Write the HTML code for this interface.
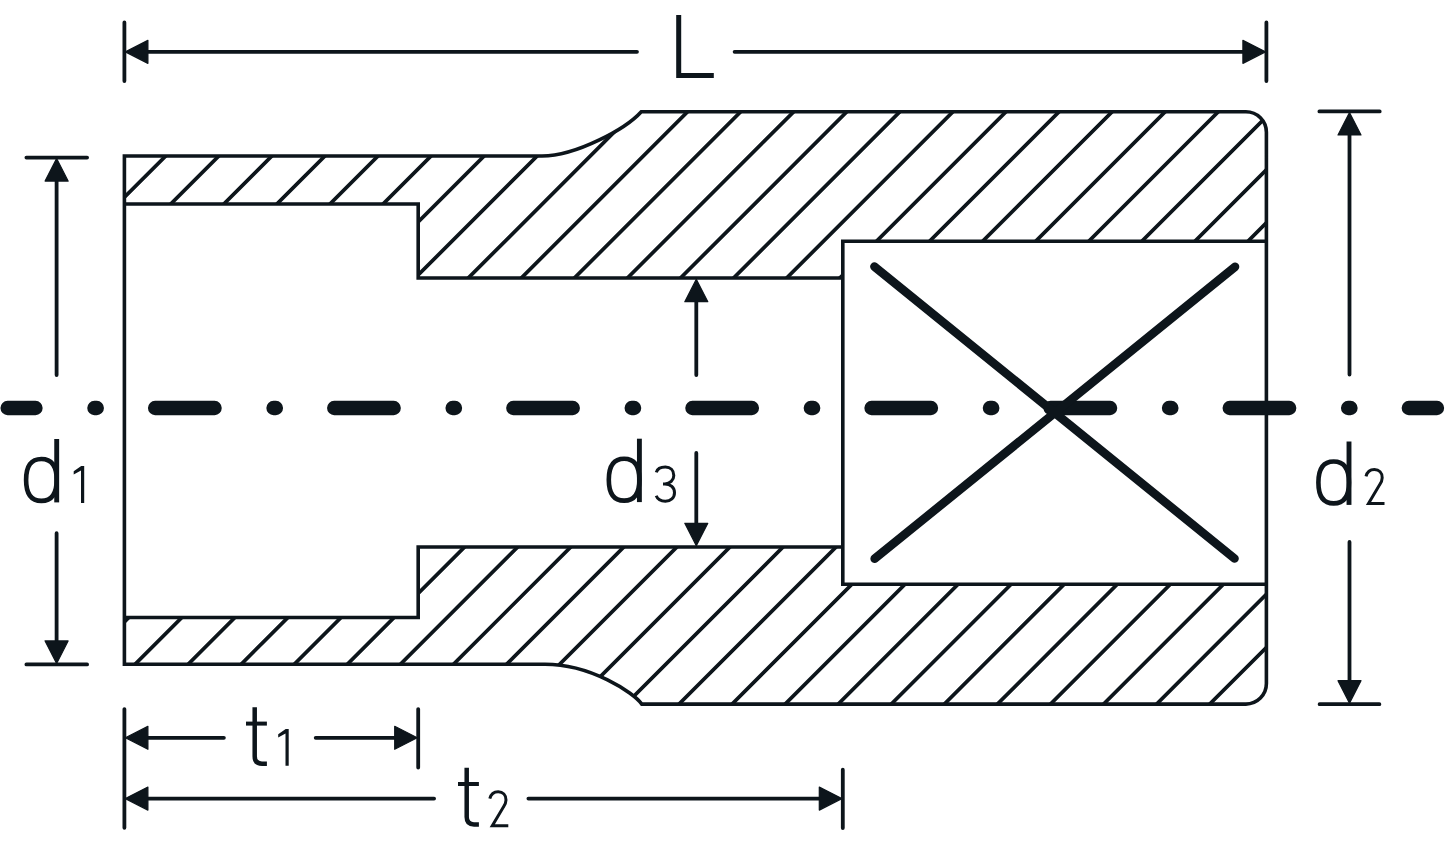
<!DOCTYPE html>
<html><head><meta charset="utf-8"><title>Socket drawing</title>
<style>
html,body{margin:0;padding:0;background:#fff;}
body{width:1445px;height:847px;overflow:hidden;font-family:"Liberation Sans",sans-serif;}
svg{display:block;}
</style></head><body>
<svg width="1445" height="847" viewBox="0 0 1445 847">
<defs>
<clipPath id="hc"><path d="M124.4,156 L530,156 L542,156 C576.5,156 625.92,128.64 641.3,111.7 L1245.9,111.7 A20.5 20.5 0 0 1 1266.4,132.2 L1266.4,241.3 L842.8,241.3 L842.8,278 L418.2,278 L418.2,204 L124.4,204 Z M124.4,617.5 L418.2,617.5 L418.2,547 L842.8,547 L842.8,584.2 L1266.4,584.2 L1266.4,683.6 A20.5 20.5 0 0 1 1245.9,704.1 L641.8,704.1 C633.51,692.6 590.91,664.2 545,664.2 L124.4,664.2 Z"/></clipPath>
</defs>
<rect width="1445" height="847" fill="#fff"/>
<g stroke="#0d151b" fill="none" stroke-linecap="round" stroke-linejoin="round">
<path d="M115.56,100 L-504.44,720 M168.63,100 L-451.37,720 M221.7,100 L-398.3,720 M274.77,100 L-345.23,720 M327.84,100 L-292.16,720 M380.91,100 L-239.09,720 M433.98,100 L-186.02,720 M487.05,100 L-132.95,720 M540.12,100 L-79.88,720 M593.19,100 L-26.81,720 M646.26,100 L26.26,720 M699.33,100 L79.33,720 M752.4,100 L132.4,720 M805.47,100 L185.47,720 M858.54,100 L238.54,720 M911.61,100 L291.61,720 M964.68,100 L344.68,720 M1017.75,100 L397.75,720 M1070.82,100 L450.82,720 M1123.89,100 L503.89,720 M1176.96,100 L556.96,720 M1230.03,100 L610.03,720 M1283.1,100 L663.1,720 M1336.17,100 L716.17,720 M1389.24,100 L769.24,720 M1442.31,100 L822.31,720 M1495.38,100 L875.38,720 M1548.45,100 L928.45,720 M1601.52,100 L981.52,720 M1654.59,100 L1034.59,720 M1707.66,100 L1087.66,720 M1760.73,100 L1140.73,720 M1813.8,100 L1193.8,720 M1866.87,100 L1246.87,720 M1919.94,100 L1299.94,720 M1973.01,100 L1353.01,720 M2026.08,100 L1406.08,720 M2079.15,100 L1459.15,720 M2132.22,100 L1512.22,720 M2185.29,100 L1565.29,720 M2238.36,100 L1618.36,720 M2291.43,100 L1671.43,720" stroke-width="3.7" clip-path="url(#hc)" stroke-linecap="butt"/>
<path d="M124.4,156 L530,156 L542,156 C576.5,156 625.92,128.64 641.3,111.7 L1245.9,111.7 A20.5 20.5 0 0 1 1266.4,132.2 L1266.4,683.6 A20.5 20.5 0 0 1 1245.9,704.1 L641.8,704.1 C633.51,692.6 590.91,664.2 545,664.2 L124.4,664.2 Z" stroke-width="3.6" stroke-linejoin="miter"/>
<path d="M124.4,204 L418.2,204 L418.2,278 L842.8,278 M124.4,617.5 L418.2,617.5 L418.2,547 L842.8,547 M1266.4,241.3 L842.8,241.3 L842.8,584.2 L1266.4,584.2" stroke-width="3.6" stroke-linecap="butt" stroke-linejoin="miter"/>
<path d="M7.6,408.0 L35.5,408.0 M155.1,408.0 L214.6,408.0 M334.2,408.0 L393.7,408.0 M513.3,408.0 L572.8,408.0 M692.4,408.0 L751.9,408.0 M871.5,408.0 L931,408.0 M1050.6,408.0 L1110.1,408.0 M1229.7,408.0 L1289.2,408.0 M1408.8,408.0 L1437,408.0 M94.4,408.0 L96.8,408.0 M273.5,408.0 L275.9,408.0 M452.6,408.0 L455,408.0 M631.7,408.0 L634.1,408.0 M810.8,408.0 L813.2,408.0 M989.9,408.0 L992.3,408.0 M1169,408.0 L1171.4,408.0 M1348.1,408.0 L1350.5,408.0" stroke-width="14.3"/>
<path d="M874.4,266.6 L1234.5,558.5 M874.7,558.7 L1235,266.8" stroke-width="8.6"/>
<path d="M124.4,22.4 L124.4,81.1 M1266.4,22.4 L1266.4,81.1 M26.4,157.6 L87.1,157.6 M26.4,664.4 L87.1,664.4 M1319.4,111.4 L1379.7,111.4 M1319.6,704.2 L1379.4,704.2 M124.4,709.1 L124.4,827.8 M418.2,709.1 L418.2,767.5 M842.8,769.7 L842.8,828" stroke-width="3.8"/>
<path d="M132.4,51.85 L637,51.85 M734.6,51.85 L1258.4,51.85 M56.6,170 L56.6,375.1 M56.6,533.2 L56.6,650 M1349.5,125 L1349.5,374.5 M1349.5,541.9 L1349.5,690 M696.3,290 L696.3,375 M696.3,452.9 L696.3,535 M132.4,737.8 L223.9,737.8 M315.7,737.8 L410.2,737.8 M132.4,798.6 L434.1,798.6 M528.4,798.6 L834.8,798.6" stroke-width="3.8"/>
<path d="M125.4,51.85 L147.9,40.35 L147.9,63.35 Z M1265.4,51.85 L1242.9,63.35 L1242.9,40.35 Z M56.6,158.6 L68.1,181.1 L45.1,181.1 Z M56.6,663.4 L45.1,640.9 L68.1,640.9 Z M1349.5,112.4 L1361,134.9 L1338,134.9 Z M1349.5,703.2 L1338,680.7 L1361,680.7 Z M696.3,279.2 L707.8,301.7 L684.8,301.7 Z M696.3,545.8 L684.8,523.3 L707.8,523.3 Z M125.4,737.8 L147.9,726.3 L147.9,749.3 Z M417.2,737.8 L394.7,749.3 L394.7,726.3 Z M125.4,798.6 L147.9,787.1 L147.9,810.1 Z M841.8,798.6 L819.3,810.1 L819.3,787.1 Z" fill="#0d151b" stroke-width="1.2"/>
</g>
<g stroke="#0d151b" fill="#0d151b" stroke-linecap="butt" stroke-linejoin="round">
<path d="M678.7,15.1 L678.7,75.6 L713.8,75.6" stroke-width="5" fill="none" stroke-linejoin="miter" stroke-linecap="butt"/>
<path d="M56.7,439 L56.7,502.4" stroke-width="4.9" fill="none"/><path d="M41.4,459 C31.15,459 26.1,465.91 26.1,479.95 C26.1,493.99 31.15,500.9 41.4,500.9 C51.65,500.9 56.7,493.99 56.7,479.95 C56.7,465.91 51.65,459 41.4,459 Z" stroke-width="4.6" fill="none"/>
<path d="M84.2,466 L84.2,502.9 L81,502.9 L81,470.4 L73.7,474.4 L73.7,471.3 L81.2,466 Z" stroke="none"/>
<path d="M1349,441.5 L1349,504.9" stroke-width="4.9" fill="none"/><path d="M1333.7,461.5 C1323.45,461.5 1318.4,468.41 1318.4,482.45 C1318.4,496.49 1323.45,503.4 1333.7,503.4 C1343.95,503.4 1349,496.49 1349,482.45 C1349,468.41 1343.95,461.5 1333.7,461.5 Z" stroke-width="4.6" fill="none"/>
<path d="M1366,476.4 C1367.1,472 1370.5,469.5 1374.4,469.5 C1379.1,469.5 1382.2,473 1382.2,477.7 C1382.2,480.5 1381.3,482.4 1379.6,484.8 L1368.5,503.4 L1384.5,503.4" stroke-width="3" fill="none" stroke-linejoin="miter" stroke-miterlimit="8"/>
<path d="M639.4,438.7 L639.4,502.1" stroke-width="4.9" fill="none"/><path d="M624.1,458.7 C613.85,458.7 608.8,465.61 608.8,479.65 C608.8,493.69 613.85,500.6 624.1,500.6 C634.35,500.6 639.4,493.69 639.4,479.65 C639.4,465.61 634.35,458.7 624.1,458.7 Z" stroke-width="4.6" fill="none"/>
<path d="M656.3,472.4 C657.4,468.7 660.9,467.1 665.4,467.1 C670.4,467.1 673.8,470.5 673.8,475.4 C673.8,480.2 669.9,483.9 664.9,483.9 L663,483.9 M664.9,483.9 C670.6,483.9 674.5,487.7 674.5,492.7 C674.5,497.9 670.6,501.2 665.4,501.2 C660.9,501.2 657.4,498.9 656.2,495.8" stroke-width="3" fill="none"/>
<path d="M254.7,707.3 L254.7,756.3 C254.7,761.6 257.5,763.7 262,763.7 L266.9,763.7" stroke-width="4.5" fill="none"/><path d="M246,723.6 L266.9,723.6" stroke-width="4" fill="none"/>
<path d="M288.7,729 L288.7,765.8 L285.5,765.8 L285.5,733.4 L278.2,737.4 L278.2,734.3 L285.7,729 Z" stroke="none"/>
<path d="M466.7,767.7 L466.7,817 C466.7,822.3 469.5,824.4 474,824.4 L478.9,824.4" stroke-width="4.5" fill="none"/><path d="M458,784 L478.9,784" stroke-width="4" fill="none"/>
<path d="M489.8,798.7 C490.9,794.3 494.3,791.8 498.2,791.8 C502.9,791.8 506,795.3 506,800 C506,802.8 505.1,804.7 503.4,807.1 L492.3,825.7 L508.3,825.7" stroke-width="3" fill="none" stroke-linejoin="miter" stroke-miterlimit="8"/>
</g>
</svg>
</body></html>
